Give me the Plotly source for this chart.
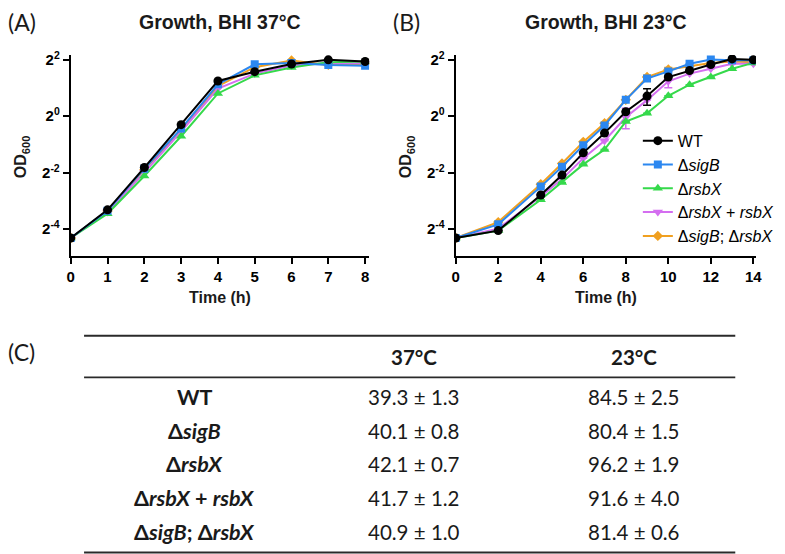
import math
import plotly.graph_objects as go

W, H = 785, 554
# the page body keeps its default 8px margin, so the figure is drawn 8px in
OFF = 8
FW, FH = W - OFF, H - OFF

# ---------------- data ----------------
strain_names = ["WT", "Δ<i>sigB</i>", "Δ<i>rsbX</i>", "Δ<i>rsbX</i> + <i>rsbX</i>", "Δ<i>sigB</i>; Δ<i>rsbX</i>"]
strain_colors = ["#000000", "#2B87F0", "#35D94B", "#D46EF0", "#F0A020"]
strain_symbols = ["circle", "square", "triangle-up", "triangle-down", "diamond"]
strain_sizes = [9, 8, 9, 9, 8]

time_37 = [0, 1, 2, 3, 4, 5, 6, 7, 8]
od37_wt = [0.050, 0.100, 0.283, 0.812, 2.38, 2.99, 3.61, 4.00, 3.84]
od37_sigb = [0.050, 0.098, 0.275, 0.737, 2.19, 3.58, 3.71, 3.53, 3.46]
od37_rsbx = [0.050, 0.091, 0.230, 0.611, 1.75, 2.73, 3.32, 3.78, 3.84]
od37_comp = [0.050, 0.095, 0.250, 0.683, 1.97, 2.85, 3.48, 3.71, 3.68]
od37_dbl = [0.050, 0.097, 0.268, 0.707, 2.09, 3.34, 3.94, 3.53, 3.63]

time_23 = [0, 2, 4, 5, 6, 7, 8, 9, 10, 11, 12, 13, 14]
od23_wt = [0.050, 0.060, 0.144, 0.235, 0.406, 0.660, 1.117, 1.64, 2.62, 3.08, 3.57, 4.09, 4.00]
od23_sigb = [0.050, 0.070, 0.177, 0.289, 0.490, 0.796, 1.495, 2.52, 3.01, 3.63, 4.03, 3.95, 3.95]
od23_rsbx = [0.050, 0.060, 0.128, 0.196, 0.306, 0.441, 0.877, 1.075, 1.65, 2.17, 2.62, 3.21, 3.71]
od23_comp = [0.050, 0.063, 0.139, 0.213, 0.356, 0.547, 0.973, 1.485, 2.36, 2.85, 3.21, 3.63, 3.63]
od23_dbl = [0.050, 0.074, 0.188, 0.312, 0.532, 0.841, 1.495, 2.62, 3.16, 3.43, 3.71, 3.84, 3.78]

err23_wt = [0, 0, 0, 0, 0, 0, 0, 0.33, 0, 0, 0, 0, 0]
err23_sigb = [0, 0, 0, 0, 0, 0, 0, 0.15, 0, 0, 0, 0, 0]
err23_rsbx = [0, 0, 0, 0, 0, 0, 0, 0, 0, 0, 0, 0, 0]
err23_comp = [0, 0, 0, 0, 0, 0, 0.24, 0, 0.35, 0, 0, 0, 0]
err23_dbl = [0, 0, 0, 0, 0, 0, 0, 0.12, 0.15, 0, 0, 0, 0]

ytick_vals = [2 ** -4, 2 ** -2, 2 ** 0, 2 ** 2]
ytick_text = ["2<sup>-4</sup>", "2<sup>-2</sup>", "2<sup>0</sup>", "2<sup>2</sup>"]

table_strains = ["WT", "Δ<i>sigB</i>", "Δ<i>rsbX</i>", "Δ<i>rsbX</i> + <i>rsbX</i>", "Δ<i>sigB</i>; Δ<i>rsbX</i>"]
table_cols = ["37°C", "23°C"]
gen37 = [39.3, 40.1, 42.1, 41.7, 40.9]
sd37 = [1.3, 0.8, 0.7, 1.2, 1.0]
gen23 = [84.5, 80.4, 96.2, 91.6, 81.4]
sd23 = [2.5, 1.5, 1.9, 4.0, 0.6]

# ---------------- helpers (screen pixel -> paper) ----------------
def px(x):
    return (x - OFF) / FW

def py(y):
    return 1 - (y - OFF) / FH

series37 = [od37_wt, od37_sigb, od37_rsbx, od37_comp, od37_dbl]
series23 = [od23_wt, od23_sigb, od23_rsbx, od23_comp, od23_dbl]
errs23 = [err23_wt, err23_sigb, err23_rsbx, err23_comp, err23_dbl]

fig = go.Figure()

for i in reversed(range(5)):
    fig.add_trace(go.Scatter(
        x=time_37, y=series37[i], mode="lines+markers", name=strain_names[i],
        line=dict(color=strain_colors[i], width=2),
        marker=dict(symbol=strain_symbols[i], size=strain_sizes[i], color=strain_colors[i]),
        showlegend=False, xaxis="x", yaxis="y"))
for i in reversed(range(5)):
    fig.add_trace(go.Scatter(
        x=time_23, y=series23[i], mode="lines+markers", name=strain_names[i],
        line=dict(color=strain_colors[i], width=2),
        marker=dict(symbol=strain_symbols[i], size=strain_sizes[i], color=strain_colors[i]),
        error_y=dict(type="data", array=errs23[i], symmetric=True,
                     color=strain_colors[i], thickness=1.5, width=4),
        showlegend=True, xaxis="x2", yaxis="y2"))

yrange = [-4.96 * math.log10(2), 2.17 * math.log10(2)]
axis_font = dict(family="Liberation Sans, Arial", size=15, color="#000000", weight="bold")

common_x = dict(showline=True, linecolor="#000000", linewidth=2, ticks="outside",
                ticklen=6, tickwidth=2, tickcolor="#000000", showgrid=False,
                zeroline=False, tickfont=axis_font)
common_y = dict(type="log", range=yrange, tickvals=ytick_vals, ticktext=ytick_text,
                showline=True, linecolor="#000000", linewidth=2, ticks="outside",
                ticklen=6, tickwidth=2, tickcolor="#000000", showgrid=False,
                zeroline=False, tickfont=axis_font)

fig.update_layout(
    width=FW, height=FH,
    margin=dict(l=0, r=0, t=0, b=0),
    paper_bgcolor="white", plot_bgcolor="white",
    font=dict(family="Liberation Sans, Arial", color="#000000"),
    xaxis=dict(domain=[px(67.5), px(370)], range=[0, 8.115], dtick=1, anchor="y", **common_x),
    yaxis=dict(domain=[py(252.7), py(49.5)], anchor="x", **common_y),
    xaxis2=dict(domain=[px(457.5), px(761.7)], range=[0, 14.125], dtick=2, anchor="y2", **common_x),
    yaxis2=dict(domain=[py(252.7), py(49.5)], anchor="x2", **common_y),
    legend=dict(x=px(642), y=py(119), xanchor="left", yanchor="top",
                traceorder="reversed", bgcolor="rgba(0,0,0,0)",
                font=dict(family="Liberation Sans, Arial", size=16, color="#000000"),
                itemwidth=30, tracegroupgap=0),
)

ann = []
for lab, x, y in [("(A)", 2, 16), ("(B)", 392, 16), ("(C)", 2, 350)]:
    ann.append(dict(text=lab, x=px(x), y=py(y), xref="paper", yref="paper",
                    xanchor="left", yanchor="middle", showarrow=False,
                    font=dict(family="Lato", size=23, color="#1a1a1a")))
for t, x in [("Growth, BHI 37°C", 219), ("Growth, BHI 23°C", 610)]:
    ann.append(dict(text="<b>" + t + "</b>", x=px(x), y=py(16), xref="paper", yref="paper",
                    xanchor="center", yanchor="middle", showarrow=False,
                    font=dict(family="Liberation Sans, Arial", size=19.5, color="#1a1a1a")))
for x in [219, 610]:
    ann.append(dict(text="<b>Time (h)</b>", x=px(x), y=py(295), xref="paper", yref="paper",
                    xanchor="center", yanchor="middle", showarrow=False,
                    font=dict(family="Liberation Sans, Arial", size=16, color="#1a1a1a")))
for x in [18, 408]:
    ann.append(dict(text="<b>OD<sub>600</sub></b>", x=px(x), y=py(152), xref="paper", yref="paper",
                    xanchor="center", yanchor="middle", showarrow=False, textangle=-90,
                    font=dict(family="Liberation Sans, Arial", size=16, color="#1a1a1a")))

# table
vfont = dict(family="Lato", size=20.5, color="#1a1a1a")
lfont = dict(family="Lato", size=21.5, color="#1a1a1a")
col_x = [415, 638]
label_x = 193
row_y = [395, 429.3, 463.3, 497.3, 531.7]
for cx, c in zip(col_x, table_cols):
    ann.append(dict(text="<b>" + c + "</b>", x=px(cx), y=py(355), xref="paper", yref="paper",
                    xanchor="center", yanchor="middle", showarrow=False, font=vfont))
for i, s in enumerate(table_strains):
    ann.append(dict(text="<b>" + s + "</b>", x=px(label_x), y=py(row_y[i]), xref="paper", yref="paper",
                    xanchor="center", yanchor="middle", showarrow=False, font=lfont))
    ann.append(dict(text=f"{gen37[i]:.1f} ± {sd37[i]:.1f}", x=px(col_x[0]), y=py(row_y[i]),
                    xref="paper", yref="paper", xanchor="center", yanchor="middle",
                    showarrow=False, font=vfont))
    ann.append(dict(text=f"{gen23[i]:.1f} ± {sd23[i]:.1f}", x=px(col_x[1]), y=py(row_y[i]),
                    xref="paper", yref="paper", xanchor="center", yanchor="middle",
                    showarrow=False, font=vfont))

shapes = []
for ly in [333.3, 375.5, 552.5]:
    shapes.append(dict(type="line", xref="paper", yref="paper", x0=px(81), x1=px(740.7),
                       y0=py(ly), y1=py(ly), line=dict(color="#2a2a2a", width=1.8)))

fig.update_layout(annotations=ann, shapes=shapes)
fig.write_html("out.html")
